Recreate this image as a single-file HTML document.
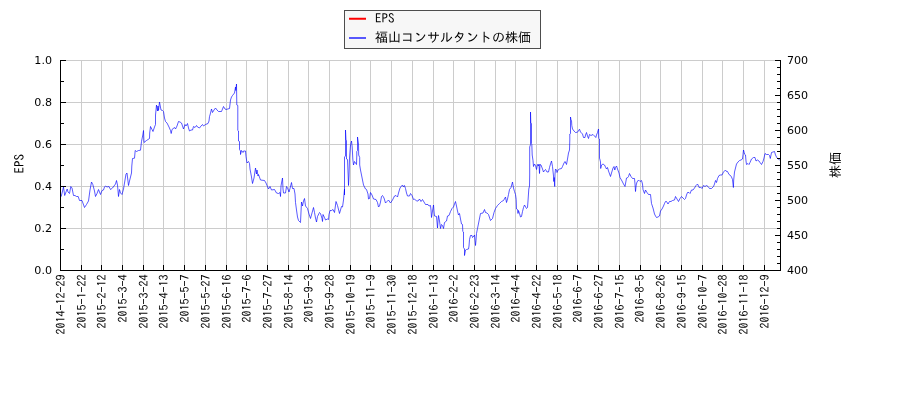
<!DOCTYPE html>
<html lang="ja"><head><meta charset="utf-8"><title>福山コンサルタントの株価 EPS</title>
<style>
html,body{margin:0;padding:0;background:#fff;}
body{width:900px;height:400px;overflow:hidden;}
svg{display:block;}
.tk{font-family:"DejaVu Sans","Liberation Sans",sans-serif;font-size:11.1px;fill:#000;}
.jp{font-family:"IPAGothic","Liberation Sans","Noto Sans CJK JP",sans-serif;font-size:12px;fill:#000;}
</style></head><body>
<svg width="900" height="400" viewBox="0 0 900 400">
<rect width="900" height="400" fill="#fff"/>
<path d="M60.5 60V270M81.5 60V270M101.5 60V270M122.5 60V270M143.5 60V270M163.5 60V270M184.5 60V270M205.5 60V270M226.5 60V270M246.5 60V270M267.5 60V270M288.5 60V270M308.5 60V270M329.5 60V270M350.5 60V270M370.5 60V270M391.5 60V270M412.5 60V270M433.5 60V270M453.5 60V270M474.5 60V270M495.5 60V270M515.5 60V270M536.5 60V270M557.5 60V270M577.5 60V270M598.5 60V270M619.5 60V270M640.5 60V270M660.5 60V270M681.5 60V270M702.5 60V270M722.5 60V270M743.5 60V270M764.5 60V270M60 60.5H780M60 102.5H780M60 144.5H780M60 186.5H780M60 228.5H780M60 270.5H780" stroke="#cccccc" stroke-width="1" fill="none" shape-rendering="crispEdges"/>
<path d="M60.5 197.0 L61.2 196.5 L63.5 187.0 L64.7 195.5 L66.2 191.5 L67.2 189.0 L68.0 192.0 L69.5 193.5 L70.8 186.5 L72.0 188.0 L73.5 195.5 L75.0 195.5 L76.5 196.5 L78.2 196.5 L79.5 200.5 L82.0 200.5 L84.5 207.5 L86.5 204.5 L88.5 201.0 L90.0 190.0 L91.5 182.0 L92.8 184.5 L94.5 191.0 L95.5 196.5 L97.0 193.5 L98.5 189.5 L100.5 194.5 L102.0 190.5 L103.5 190.0 L104.5 187.0 L105.5 186.0 L107.0 187.0 L109.0 186.5 L110.5 189.5 L112.5 188.0 L114.0 186.0 L115.5 184.0 L116.5 180.5 L117.5 185.0 L118.5 196.5 L119.5 189.5 L120.5 193.0 L122.0 194.5 L123.5 189.0 L125.0 180.0 L126.0 174.0 L127.0 173.0 L128.5 185.5 L129.5 181.0 L131.5 173.0 L131.8 166.0 L132.5 158.5 L134.5 158.2 L135.2 150.5 L136.5 151.5 L138.5 150.5 L140.5 150.2 L141.5 141.5 L142.8 135.0 L143.5 130.5 L144.0 142.5 L146.5 140.5 L149.5 138.5 L149.7 133.0 L150.5 126.5 L152.0 129.5 L153.0 131.5 L154.5 127.0 L155.5 124.5 L155.5 115.0 L156.5 105.0 L157.5 111.0 L158.0 106.0 L158.5 110.5 L159.5 102.0 L161.0 110.0 L162.5 110.5 L163.5 111.5 L164.5 118.0 L165.5 121.5 L167.0 123.0 L169.0 127.0 L170.5 130.5 L171.2 133.5 L172.0 129.5 L174.5 127.5 L175.5 129.0 L177.0 126.0 L178.5 121.5 L180.0 122.0 L181.5 123.0 L183.5 129.0 L185.0 124.5 L186.0 126.0 L187.5 123.5 L188.5 128.0 L189.5 131.0 L191.0 130.0 L192.5 130.0 L193.5 126.5 L195.0 127.5 L196.5 125.5 L197.5 127.0 L199.5 128.0 L201.0 126.0 L202.5 124.5 L203.5 126.0 L205.5 124.5 L208.0 123.5 L209.0 121.0 L209.5 116.5 L210.0 115.0 L211.5 109.0 L212.5 112.5 L214.0 110.0 L215.5 108.0 L217.0 110.0 L218.5 111.5 L221.5 111.5 L223.5 106.5 L225.0 109.0 L226.0 109.5 L229.5 108.5 L230.5 100.0 L231.5 97.0 L232.5 95.5 L234.5 93.0 L235.5 87.0 L235.8 90.5 L236.5 84.0 L236.8 105.0 L237.8 105.5 L237.8 120.0 L237.8 124.0 L237.8 130.5 L238.5 131.0 L238.5 141.0 L239.5 141.5 L239.5 149.5 L240.5 151.0 L240.5 154.5 L241.5 150.5 L243.0 152.5 L243.5 151.0 L245.5 151.0 L246.0 156.5 L247.0 163.0 L248.5 161.5 L249.5 163.5 L250.0 169.0 L251.5 177.0 L252.5 183.5 L254.0 178.0 L255.5 168.0 L256.5 174.0 L257.0 170.0 L258.0 176.0 L258.5 174.5 L260.5 180.0 L264.5 180.5 L266.0 183.0 L268.5 189.0 L270.0 186.5 L271.5 190.0 L274.5 189.5 L276.5 193.0 L278.5 193.5 L280.0 192.5 L280.5 196.5 L281.0 186.0 L281.5 183.0 L282.5 178.0 L283.0 189.0 L283.5 193.0 L285.5 193.0 L286.5 186.5 L287.5 188.0 L289.0 192.0 L290.0 188.5 L291.5 182.5 L292.5 188.5 L294.0 188.5 L295.0 194.0 L295.5 202.5 L296.5 210.0 L297.5 217.0 L298.5 220.5 L300.5 222.5 L301.0 212.0 L301.5 202.0 L302.5 206.0 L303.5 201.0 L304.5 198.5 L305.5 206.0 L307.5 208.5 L309.0 214.0 L310.5 218.5 L312.0 213.0 L313.5 207.5 L314.5 212.5 L315.5 218.0 L316.5 222.0 L317.5 216.5 L319.5 212.5 L320.5 213.5 L322.0 218.5 L322.5 221.5 L323.0 214.5 L324.5 217.5 L325.5 220.0 L327.5 219.0 L328.5 219.5 L329.0 214.5 L330.0 210.5 L331.5 210.5 L333.0 209.5 L334.5 212.5 L336.0 201.5 L337.5 205.5 L339.5 213.5 L341.5 206.5 L342.5 207.0 L343.5 200.0 L344.5 189.0 L344.5 195.0 L344.5 189.5 L344.5 184.0 L344.5 157.0 L345.5 156.0 L345.5 130.0 L346.0 140.0 L346.5 140.5 L346.5 159.0 L347.5 159.5 L348.2 176.0 L348.5 185.5 L349.0 176.0 L349.5 158.0 L350.5 145.0 L351.5 141.0 L352.2 147.0 L352.8 159.0 L353.5 165.0 L354.5 161.5 L356.5 164.5 L356.8 155.0 L356.8 151.5 L357.5 150.5 L357.5 137.0 L358.5 144.0 L358.7 155.0 L359.7 157.5 L359.7 165.0 L360.5 170.0 L361.5 175.0 L362.5 180.0 L363.5 185.0 L365.5 189.0 L366.5 189.5 L368.0 194.0 L368.5 199.0 L369.5 198.5 L370.5 192.5 L372.0 195.0 L373.5 199.0 L376.0 199.5 L377.5 202.5 L378.5 207.0 L379.5 206.0 L380.5 202.0 L381.5 196.5 L382.5 195.5 L384.0 198.0 L385.5 203.0 L387.0 201.5 L388.5 200.0 L390.5 203.0 L392.5 200.0 L394.5 196.0 L396.0 195.5 L397.5 197.0 L398.5 193.0 L400.0 188.0 L401.5 186.0 L402.5 185.0 L403.5 187.0 L404.5 185.5 L405.5 188.5 L406.5 193.0 L407.5 196.0 L409.5 196.0 L410.5 193.5 L412.0 195.5 L413.5 199.5 L414.5 199.0 L416.5 201.0 L418.0 201.0 L419.5 199.0 L421.0 201.5 L422.5 199.5 L424.0 202.0 L425.5 204.5 L428.0 204.5 L429.0 206.0 L430.5 205.5 L431.0 210.0 L431.5 217.5 L432.5 211.0 L433.5 205.0 L434.0 211.0 L434.5 216.0 L436.5 216.5 L437.0 222.0 L437.5 228.0 L438.0 221.0 L438.5 215.5 L439.5 221.0 L440.5 228.5 L441.5 224.5 L442.5 225.5 L443.5 228.5 L444.5 222.5 L446.5 221.0 L447.5 216.0 L449.0 215.5 L450.5 211.5 L452.0 208.5 L453.5 207.0 L454.5 204.0 L455.5 201.5 L456.5 206.0 L457.5 211.0 L458.5 215.0 L459.5 213.5 L460.5 219.0 L461.5 224.0 L462.5 224.5 L462.8 231.5 L463.5 232.0 L463.5 247.5 L464.5 249.0 L464.5 255.5 L465.5 250.0 L466.5 249.5 L468.5 249.0 L469.0 246.0 L469.5 239.5 L470.5 235.5 L472.0 235.5 L472.5 237.5 L474.0 236.0 L474.5 235.0 L475.0 240.0 L475.5 245.5 L476.0 240.5 L476.5 233.5 L477.5 228.5 L479.0 221.0 L480.5 213.5 L483.0 213.0 L484.5 209.5 L485.5 212.5 L487.0 213.0 L488.5 214.5 L490.5 220.5 L492.5 218.5 L494.0 212.5 L495.5 208.5 L497.5 205.5 L499.5 203.5 L501.5 201.5 L503.5 200.5 L505.5 197.0 L506.5 202.5 L507.5 199.0 L508.5 194.5 L509.5 189.5 L511.0 187.5 L512.5 182.0 L513.5 188.0 L514.5 191.5 L515.5 194.5 L516.2 199.5 L516.5 209.0 L517.5 209.5 L518.0 213.5 L518.5 210.5 L519.5 213.5 L520.5 217.0 L521.5 216.5 L522.5 211.5 L523.5 207.5 L524.5 205.0 L526.5 208.5 L527.5 207.5 L528.0 201.0 L528.8 189.0 L529.5 186.0 L529.7 175.0 L529.7 147.0 L530.5 144.5 L530.5 112.0 L530.8 123.0 L531.5 123.5 L531.5 143.5 L531.8 144.0 L532.2 155.0 L533.0 160.5 L533.5 166.5 L534.5 164.0 L535.5 165.5 L536.5 169.5 L537.5 164.5 L538.5 166.0 L539.0 164.0 L539.5 173.5 L540.0 164.5 L541.0 165.0 L542.5 169.0 L543.5 172.0 L544.5 170.5 L545.5 169.5 L547.0 172.0 L548.5 172.0 L549.5 167.5 L550.5 164.0 L551.5 161.0 L552.5 166.5 L553.5 176.0 L553.8 181.5 L554.2 177.5 L554.7 186.5 L555.0 174.0 L555.5 169.0 L556.5 170.0 L557.0 172.5 L558.0 170.0 L559.5 169.0 L561.5 168.5 L562.5 166.5 L564.0 163.0 L565.0 161.5 L566.5 164.5 L567.5 159.0 L568.5 153.0 L569.5 150.0 L569.8 140.0 L569.8 134.0 L570.5 133.5 L570.5 117.0 L571.0 120.0 L571.5 120.5 L571.8 125.5 L572.5 129.0 L574.0 131.0 L575.5 132.5 L577.5 132.2 L579.5 129.2 L580.5 132.0 L582.5 134.0 L583.5 137.5 L585.0 137.5 L585.5 135.0 L586.5 132.5 L587.5 136.0 L588.5 138.5 L589.5 134.5 L591.0 135.5 L593.0 134.5 L594.5 136.0 L595.8 137.5 L596.5 135.0 L597.5 132.5 L598.5 129.0 L598.8 138.5 L599.5 139.0 L599.5 158.5 L599.7 158.5 L600.5 162.0 L600.7 168.5 L601.5 165.0 L603.0 164.0 L604.5 165.0 L606.5 169.0 L607.5 167.5 L608.5 171.0 L610.5 176.5 L611.5 173.0 L613.0 168.0 L614.0 166.5 L614.8 170.0 L615.5 167.5 L616.5 166.0 L617.5 169.0 L619.0 173.0 L620.0 177.5 L622.0 181.0 L623.5 184.0 L625.0 186.5 L625.8 182.0 L626.5 178.0 L627.8 177.5 L628.5 176.5 L629.5 173.5 L631.0 176.5 L632.5 178.5 L634.5 178.5 L635.0 184.0 L635.5 191.5 L636.2 185.0 L637.0 182.0 L638.5 180.0 L640.0 181.5 L641.5 180.5 L642.5 184.0 L643.0 189.5 L644.5 193.5 L645.5 190.0 L647.0 192.5 L648.5 194.5 L650.5 194.5 L651.0 199.0 L651.5 203.5 L653.0 208.0 L654.5 214.0 L655.5 216.0 L656.5 217.5 L658.0 217.0 L659.5 216.0 L660.5 211.0 L662.0 209.0 L663.5 206.0 L664.5 203.5 L665.5 201.5 L666.5 201.5 L668.0 204.0 L669.5 201.5 L671.0 201.5 L672.5 200.5 L674.5 200.0 L675.5 196.5 L677.0 199.0 L678.5 201.5 L680.0 198.5 L681.5 196.5 L683.0 198.0 L684.5 199.5 L685.5 198.5 L686.5 195.0 L687.5 192.5 L689.0 192.5 L690.0 193.5 L691.5 190.0 L693.0 190.0 L694.5 188.0 L696.0 185.5 L697.5 184.0 L699.5 188.0 L700.5 187.0 L702.0 188.5 L703.5 185.5 L705.0 186.5 L706.5 185.5 L708.0 186.5 L709.5 188.5 L711.5 188.5 L713.5 186.5 L714.5 184.0 L715.5 180.5 L716.5 182.5 L717.5 178.5 L719.0 175.5 L720.5 175.0 L722.0 175.0 L723.5 172.0 L725.5 170.0 L726.5 171.5 L727.5 171.5 L729.0 174.5 L730.5 175.5 L731.5 177.0 L732.5 179.5 L733.4 187.5 L733.7 180.0 L734.5 172.0 L735.5 168.0 L736.5 164.0 L738.0 162.0 L739.5 160.5 L741.0 160.0 L742.5 159.0 L743.0 154.5 L743.5 150.0 L744.2 152.5 L744.8 154.5 L745.5 155.0 L746.0 161.0 L746.5 164.5 L748.0 163.5 L749.0 164.5 L750.0 162.5 L751.5 159.0 L753.5 157.5 L755.0 157.5 L756.0 161.0 L757.5 160.0 L759.0 161.0 L760.0 162.5 L761.5 164.5 L763.0 161.5 L764.0 158.0 L765.0 153.5 L766.5 154.5 L768.5 154.5 L769.5 155.5 L770.3 158.5 L771.0 155.0 L771.5 152.5 L773.0 152.0 L774.5 151.5 L775.5 155.0 L776.5 157.0 L777.5 158.5 L779.0 159.5 L779.8 160.0" stroke="#0000ff" stroke-width="0.65" fill="none" stroke-linejoin="round"/>
<path d="M60.5 270v-5M81.5 270v-5M101.5 270v-5M122.5 270v-5M143.5 270v-5M163.5 270v-5M184.5 270v-5M205.5 270v-5M226.5 270v-5M246.5 270v-5M267.5 270v-5M288.5 270v-5M308.5 270v-5M329.5 270v-5M350.5 270v-5M370.5 270v-5M391.5 270v-5M412.5 270v-5M433.5 270v-5M453.5 270v-5M474.5 270v-5M495.5 270v-5M515.5 270v-5M536.5 270v-5M557.5 270v-5M577.5 270v-5M598.5 270v-5M619.5 270v-5M640.5 270v-5M660.5 270v-5M681.5 270v-5M702.5 270v-5M722.5 270v-5M743.5 270v-5M764.5 270v-5M60 60.5h6M60 81.5h4M60 102.5h6M60 123.5h4M60 144.5h6M60 165.5h4M60 186.5h6M60 207.5h4M60 228.5h6M60 249.5h4M60 270.5h6M780 60.5h-5M780 67.5h-3M780 74.5h-3M780 81.5h-3M780 88.5h-3M780 95.5h-5M780 102.5h-3M780 109.5h-3M780 116.5h-3M780 123.5h-3M780 130.5h-5M780 137.5h-3M780 144.5h-3M780 151.5h-3M780 158.5h-3M780 165.5h-5M780 172.5h-3M780 179.5h-3M780 186.5h-3M780 193.5h-3M780 200.5h-5M780 207.5h-3M780 214.5h-3M780 221.5h-3M780 228.5h-3M780 235.5h-5M780 242.5h-3M780 249.5h-3M780 256.5h-3M780 263.5h-3M780 270.5h-5" stroke="#000" stroke-width="1" fill="none" shape-rendering="crispEdges"/>
<path d="M60.5 60V270.5H780.5V60" stroke="#000" stroke-width="1" fill="none" shape-rendering="crispEdges"/>
<text class="tk" x="52" y="64.2" text-anchor="end">1.0</text>
<text class="tk" x="52" y="106.2" text-anchor="end">0.8</text>
<text class="tk" x="52" y="148.2" text-anchor="end">0.6</text>
<text class="tk" x="52" y="190.2" text-anchor="end">0.4</text>
<text class="tk" x="52" y="232.2" text-anchor="end">0.2</text>
<text class="tk" x="52" y="274.2" text-anchor="end">0.0</text>
<text class="tk" x="787" y="64.2">700</text>
<text class="tk" x="787" y="99.2">650</text>
<text class="tk" x="787" y="134.2">600</text>
<text class="tk" x="787" y="169.2">550</text>
<text class="tk" x="787" y="204.2">500</text>
<text class="tk" x="787" y="239.2">450</text>
<text class="tk" x="787" y="274.2">400</text>
<text class="jp" transform="translate(64.9 274.5) rotate(-90)" text-anchor="end">2014-12-29</text>
<text class="jp" transform="translate(85.6 274.5) rotate(-90)" text-anchor="end">2015-1-22</text>
<text class="jp" transform="translate(106.3 274.5) rotate(-90)" text-anchor="end">2015-2-12</text>
<text class="jp" transform="translate(127.0 274.5) rotate(-90)" text-anchor="end">2015-3-4</text>
<text class="jp" transform="translate(147.7 274.5) rotate(-90)" text-anchor="end">2015-3-24</text>
<text class="jp" transform="translate(168.4 274.5) rotate(-90)" text-anchor="end">2015-4-13</text>
<text class="jp" transform="translate(189.1 274.5) rotate(-90)" text-anchor="end">2015-5-7</text>
<text class="jp" transform="translate(209.8 274.5) rotate(-90)" text-anchor="end">2015-5-27</text>
<text class="jp" transform="translate(230.5 274.5) rotate(-90)" text-anchor="end">2015-6-16</text>
<text class="jp" transform="translate(251.2 274.5) rotate(-90)" text-anchor="end">2015-7-6</text>
<text class="jp" transform="translate(271.9 274.5) rotate(-90)" text-anchor="end">2015-7-27</text>
<text class="jp" transform="translate(292.6 274.5) rotate(-90)" text-anchor="end">2015-8-14</text>
<text class="jp" transform="translate(313.3 274.5) rotate(-90)" text-anchor="end">2015-9-3</text>
<text class="jp" transform="translate(334.0 274.5) rotate(-90)" text-anchor="end">2015-9-28</text>
<text class="jp" transform="translate(354.7 274.5) rotate(-90)" text-anchor="end">2015-10-19</text>
<text class="jp" transform="translate(375.4 274.5) rotate(-90)" text-anchor="end">2015-11-9</text>
<text class="jp" transform="translate(396.1 274.5) rotate(-90)" text-anchor="end">2015-11-30</text>
<text class="jp" transform="translate(416.8 274.5) rotate(-90)" text-anchor="end">2015-12-18</text>
<text class="jp" transform="translate(437.5 274.5) rotate(-90)" text-anchor="end">2016-1-13</text>
<text class="jp" transform="translate(458.2 274.5) rotate(-90)" text-anchor="end">2016-2-2</text>
<text class="jp" transform="translate(478.9 274.5) rotate(-90)" text-anchor="end">2016-2-23</text>
<text class="jp" transform="translate(499.6 274.5) rotate(-90)" text-anchor="end">2016-3-14</text>
<text class="jp" transform="translate(520.3 274.5) rotate(-90)" text-anchor="end">2016-4-4</text>
<text class="jp" transform="translate(541.0 274.5) rotate(-90)" text-anchor="end">2016-4-22</text>
<text class="jp" transform="translate(561.7 274.5) rotate(-90)" text-anchor="end">2016-5-18</text>
<text class="jp" transform="translate(582.4 274.5) rotate(-90)" text-anchor="end">2016-6-7</text>
<text class="jp" transform="translate(603.1 274.5) rotate(-90)" text-anchor="end">2016-6-27</text>
<text class="jp" transform="translate(623.8 274.5) rotate(-90)" text-anchor="end">2016-7-15</text>
<text class="jp" transform="translate(644.4 274.5) rotate(-90)" text-anchor="end">2016-8-5</text>
<text class="jp" transform="translate(665.1 274.5) rotate(-90)" text-anchor="end">2016-8-26</text>
<text class="jp" transform="translate(685.8 274.5) rotate(-90)" text-anchor="end">2016-9-15</text>
<text class="jp" transform="translate(706.5 274.5) rotate(-90)" text-anchor="end">2016-10-7</text>
<text class="jp" transform="translate(727.2 274.5) rotate(-90)" text-anchor="end">2016-10-28</text>
<text class="jp" transform="translate(747.9 274.5) rotate(-90)" text-anchor="end">2016-11-18</text>
<text class="jp" transform="translate(768.6 274.5) rotate(-90)" text-anchor="end">2016-12-9</text>
<text class="jp" style="font-size:13px" transform="translate(24.4 163.8) rotate(-90)" text-anchor="middle">EPS</text>
<text class="jp" style="font-size:13px" transform="translate(840 165) rotate(-90)" text-anchor="middle">株価</text>
<rect x="344.5" y="10.5" width="196" height="38" fill="#f7f7f7" stroke="#4d4d4d" stroke-width="1" shape-rendering="crispEdges"/>
<path d="M349 18.75H366" stroke="#ff0000" stroke-width="2" fill="none"/>
<path d="M349 38H366" stroke="#0000ff" stroke-width="1.3" fill="none"/>
<text class="jp" style="font-size:13px" x="375" y="23">EPS</text>
<text class="jp" style="font-size:13px" x="375" y="42">福山コンサルタントの株価</text>
</svg>
</body></html>
